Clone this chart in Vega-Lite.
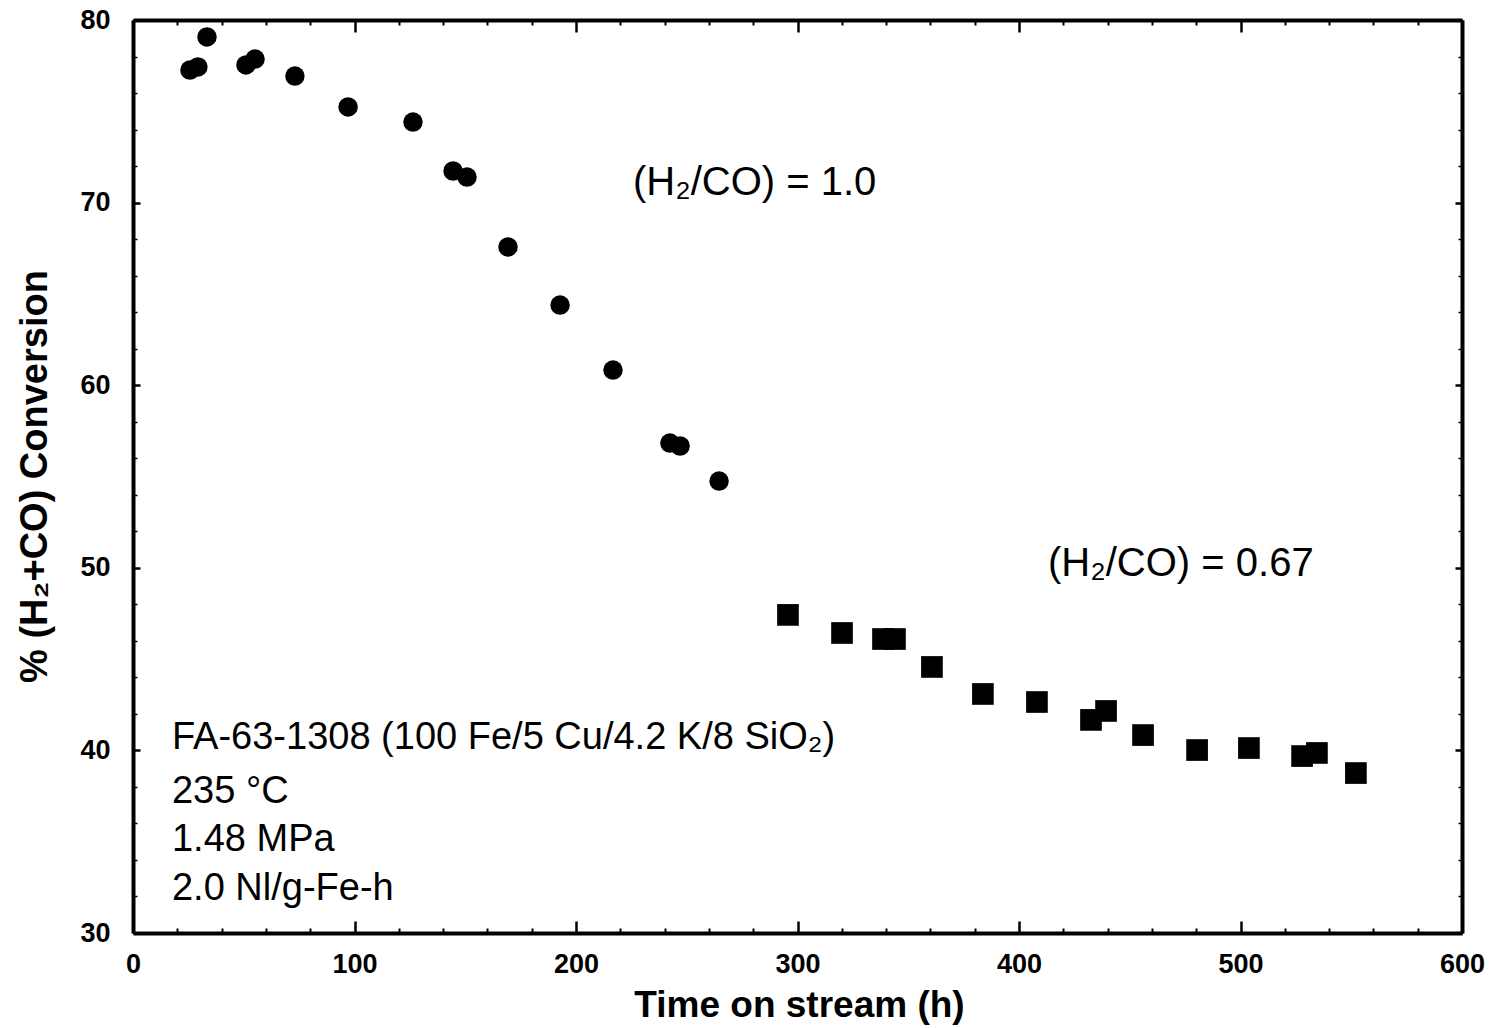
{
  "$schema": "https://vega.github.io/schema/vega-lite/v6.json",
  "width": 1329,
  "height": 913,
  "autosize": {"type": "none"},
  "padding": {"left": 133, "top": 20, "right": 30, "bottom": 95},
  "background": "white",
  "config": {
    "view": {"stroke": null},
    "font": "Liberation Sans",
    "axis": {
      "grid": false,
      "domainColor": "black",
      "tickColor": "black",
      "labelColor": "black",
      "titleColor": "black",
      "labelFlush": false,
      "labelOverlap": false,
      "labelBound": false
    }
  },
  "datasets": {
    "h2co_1": [
      {"time": 25.7, "conversion": 77.26},
      {"time": 29.3, "conversion": 77.43},
      {"time": 33.4, "conversion": 79.07},
      {"time": 51.0, "conversion": 77.54},
      {"time": 55.1, "conversion": 77.86},
      {"time": 73.1, "conversion": 76.93},
      {"time": 97.1, "conversion": 75.24},
      {"time": 126.4, "conversion": 74.41},
      {"time": 144.5, "conversion": 71.73},
      {"time": 150.8, "conversion": 71.40},
      {"time": 169.3, "conversion": 67.57},
      {"time": 192.8, "conversion": 64.39},
      {"time": 216.7, "conversion": 60.83},
      {"time": 242.4, "conversion": 56.83},
      {"time": 247.0, "conversion": 56.67},
      {"time": 264.6, "conversion": 54.75}
    ],
    "h2co_067": [
      {"time": 295.7, "conversion": 47.42},
      {"time": 320.1, "conversion": 46.43},
      {"time": 338.6, "conversion": 46.10},
      {"time": 344.0, "conversion": 46.10},
      {"time": 360.7, "conversion": 44.57},
      {"time": 383.7, "conversion": 43.09},
      {"time": 408.1, "conversion": 42.65},
      {"time": 432.5, "conversion": 41.67},
      {"time": 439.3, "conversion": 42.16},
      {"time": 456.0, "conversion": 40.84},
      {"time": 480.4, "conversion": 40.02},
      {"time": 503.8, "conversion": 40.13},
      {"time": 527.8, "conversion": 39.69},
      {"time": 534.5, "conversion": 39.86},
      {"time": 552.1, "conversion": 38.76}
    ],
    "ratio_labels": [
      {"time": 225.7, "conversion": 71.07, "label": "(H₂/CO) = 1.0"},
      {"time": 413.1, "conversion": 50.21, "label": "(H₂/CO) = 0.67"}
    ],
    "conditions": [
      {"time": 17.6, "conversion": 40.68, "label": "FA-63-1308 (100 Fe/5 Cu/4.2 K/8 SiO₂)"},
      {"time": 17.6, "conversion": 37.72, "label": "235 °C"},
      {"time": 17.6, "conversion": 35.09, "label": "1.48 MPa"},
      {"time": 17.6, "conversion": 32.41, "label": "2.0 Nl/g-Fe-h"}
    ]
  },
  "layer": [
    {
      "data": {"name": "h2co_1"},
      "mark": {"type": "point", "shape": "circle", "filled": true, "color": "black", "opacity": 1, "size": 380},
      "encoding": {
        "x": {
          "field": "time", "type": "quantitative",
          "scale": {"domain": [0, 600], "nice": false, "zero": false},
          "axis": {
            "orient": "bottom",
            "values": [0, 100, 200, 300, 400, 500, 600],
            "tickSize": -12, "tickWidth": 2.5,
            "domain": true, "domainWidth": 4,
            "labelFont": "Liberation Sans", "labelFontWeight": "bold", "labelFontSize": 27,
            "labelPadding": 30, "labelBaseline": "top",
            "title": "Time on stream (h)",
            "titleFont": "Liberation Sans", "titleFontWeight": "bold", "titleFontSize": 37,
            "titleX": 666, "titleY": 72, "titleAlign": "center", "titleBaseline": "middle"
          }
        },
        "y": {
          "field": "conversion", "type": "quantitative",
          "scale": {"domain": [30, 80], "nice": false, "zero": false},
          "axis": {
            "orient": "left",
            "values": [30, 40, 50, 60, 70, 80],
            "tickSize": -7, "tickWidth": 2.5,
            "domain": true, "domainWidth": 4,
            "labelFont": "Liberation Sans", "labelFontWeight": "bold", "labelFontSize": 27,
            "labelPadding": 30, "labelBaseline": "middle",
            "title": "% (H₂+CO) Conversion",
            "titleFont": "Liberation Sans", "titleFontWeight": "bold", "titleFontSize": 38,
            "titleAngle": 270,
            "titleX": -98, "titleY": 456, "titleAlign": "center", "titleBaseline": "middle"
          }
        }
      }
    },
    {
      "data": {"name": "h2co_067"},
      "mark": {"type": "point", "shape": "square", "filled": true, "color": "black", "opacity": 1, "size": 470},
      "encoding": {
        "x": {
          "field": "time", "type": "quantitative",
          "scale": {"domain": [0, 600], "nice": false, "zero": false},
          "axis": {
            "orient": "bottom",
            "values": [20, 40, 60, 80, 120, 140, 160, 180, 220, 240, 260, 280, 320, 340, 360, 380, 420, 440, 460, 480, 520, 540, 560, 580],
            "tickSize": -5, "tickWidth": 2,
            "domain": false, "labels": false, "title": null
          }
        },
        "y": {
          "field": "conversion", "type": "quantitative",
          "scale": {"domain": [30, 80], "nice": false, "zero": false},
          "axis": {
            "orient": "left",
            "values": [32, 34, 36, 38, 42, 44, 46, 48, 52, 54, 56, 58, 62, 64, 66, 68, 72, 74, 76, 78],
            "tickSize": -4, "tickWidth": 1.5,
            "domain": false, "labels": false, "title": null
          }
        }
      }
    },
    {
      "data": {"name": "ratio_labels"},
      "mark": {"type": "text", "align": "left", "baseline": "middle", "fontSize": 40, "font": "Liberation Sans", "color": "black"},
      "encoding": {
        "x": {
          "field": "time", "type": "quantitative",
          "scale": {"domain": [0, 600], "nice": false, "zero": false},
          "axis": {
            "orient": "top",
            "values": [0, 100, 200, 300, 400, 500, 600],
            "tickSize": -12, "tickWidth": 2.5,
            "domain": true, "domainWidth": 4,
            "labels": false, "title": null
          }
        },
        "y": {
          "field": "conversion", "type": "quantitative",
          "scale": {"domain": [30, 80], "nice": false, "zero": false},
          "axis": {
            "orient": "right",
            "values": [30, 40, 50, 60, 70, 80],
            "tickSize": -7, "tickWidth": 2.5,
            "domain": true, "domainWidth": 4,
            "labels": false, "title": null
          }
        },
        "text": {"field": "label"}
      }
    },
    {
      "data": {"name": "conditions"},
      "mark": {"type": "text", "align": "left", "baseline": "middle", "fontSize": 38, "font": "Liberation Sans", "color": "black"},
      "encoding": {
        "x": {
          "field": "time", "type": "quantitative",
          "scale": {"domain": [0, 600], "nice": false, "zero": false},
          "axis": {
            "orient": "top",
            "values": [20, 40, 60, 80, 120, 140, 160, 180, 220, 240, 260, 280, 320, 340, 360, 380, 420, 440, 460, 480, 520, 540, 560, 580],
            "tickSize": -5, "tickWidth": 2,
            "domain": false, "labels": false, "title": null
          }
        },
        "y": {
          "field": "conversion", "type": "quantitative",
          "scale": {"domain": [30, 80], "nice": false, "zero": false},
          "axis": {
            "orient": "right",
            "values": [32, 34, 36, 38, 42, 44, 46, 48, 52, 54, 56, 58, 62, 64, 66, 68, 72, 74, 76, 78],
            "tickSize": -4, "tickWidth": 1.5,
            "domain": false, "labels": false, "title": null
          }
        },
        "text": {"field": "label"}
      }
    }
  ],
  "resolve": {"axis": {"x": "independent", "y": "independent"}}
}
